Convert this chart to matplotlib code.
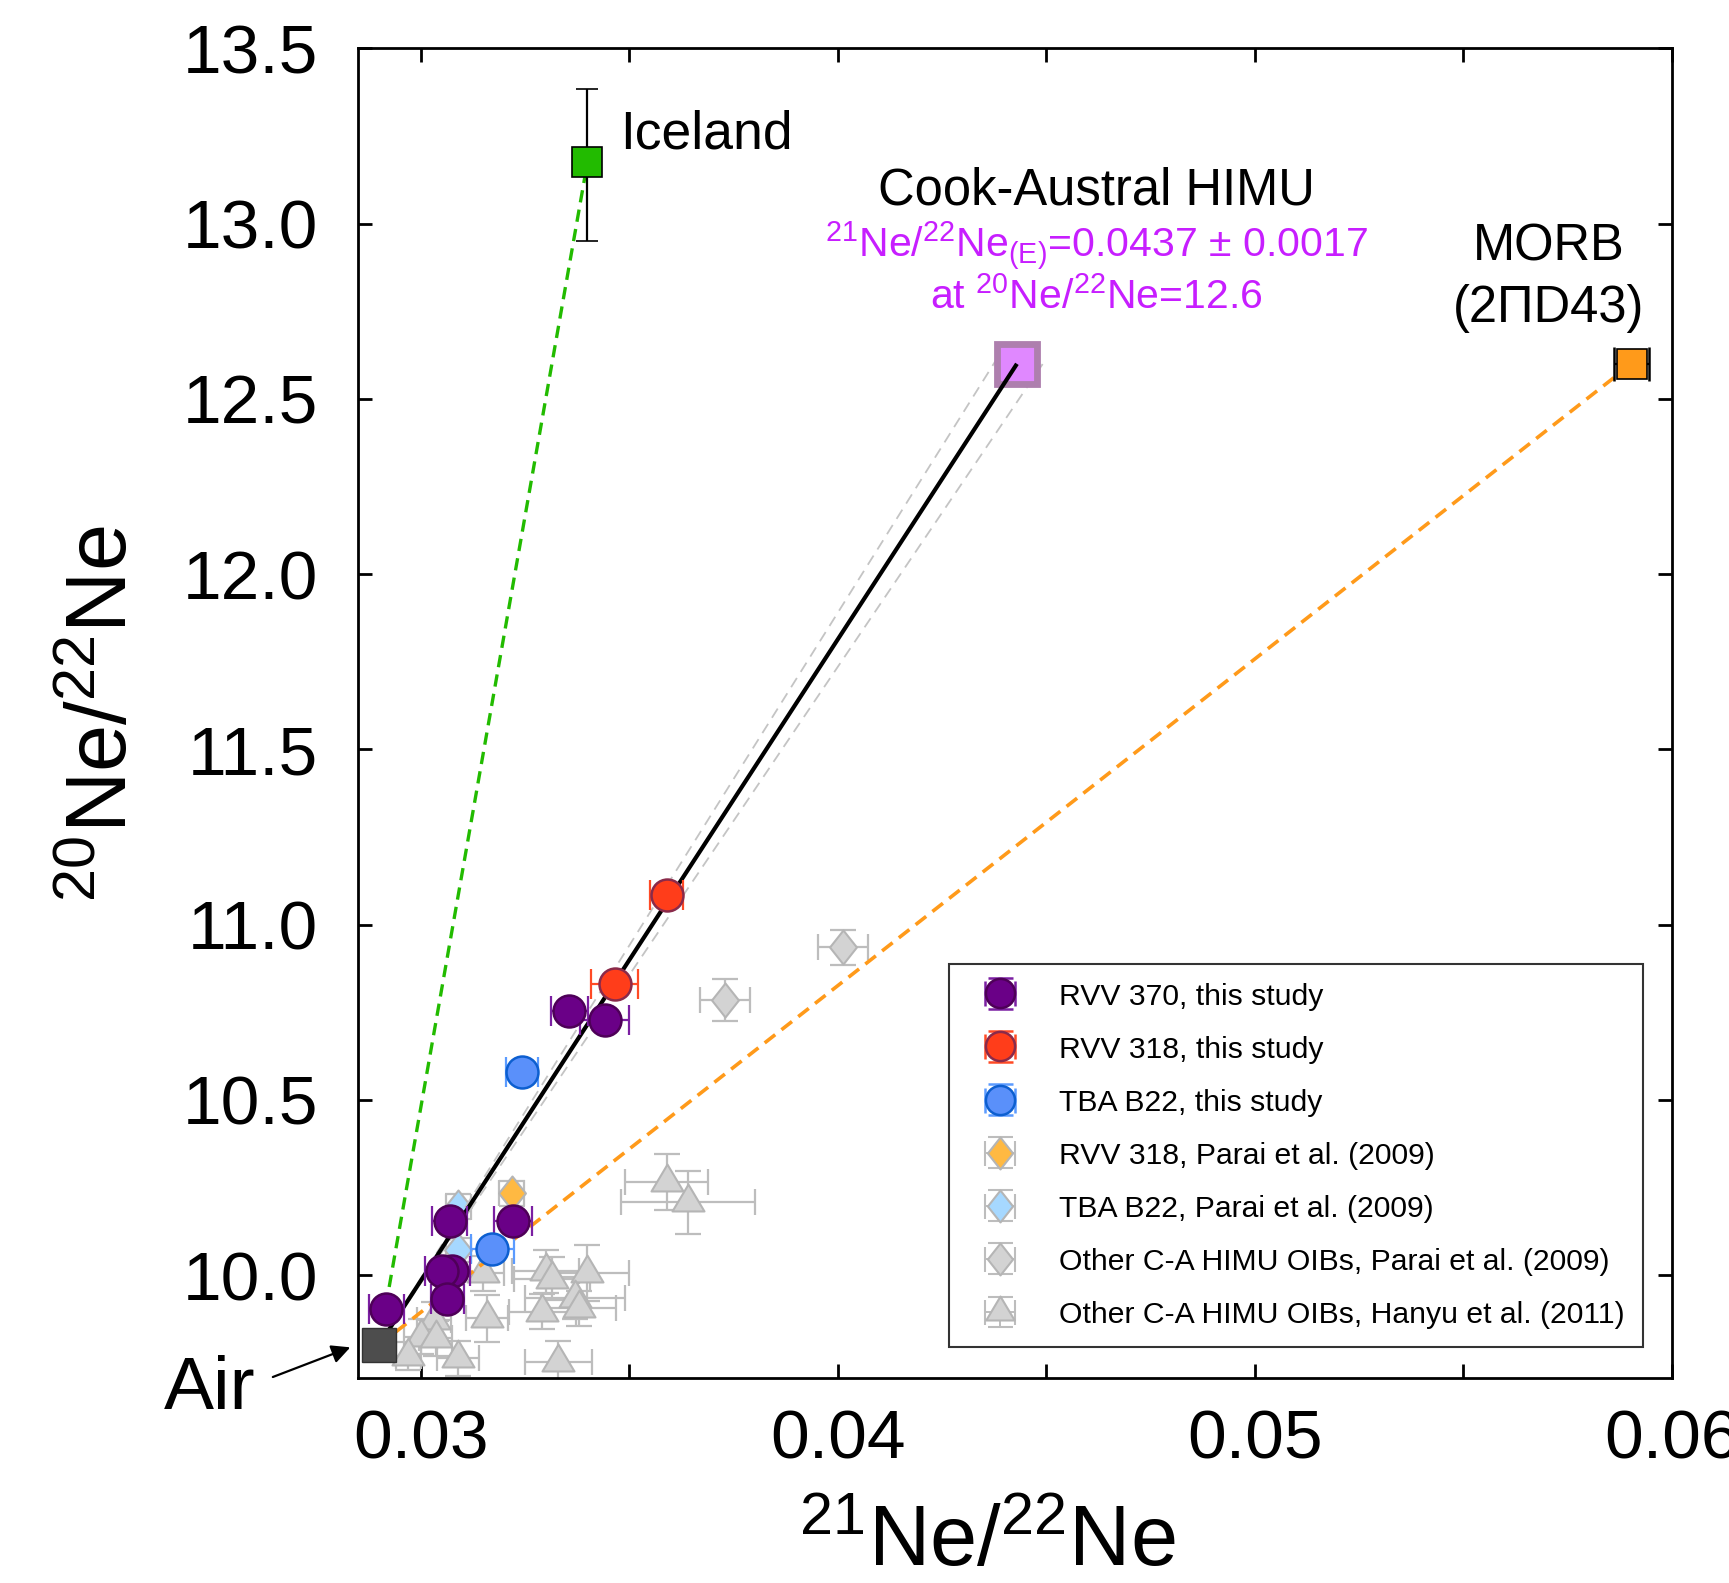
import matplotlib
matplotlib.use("Agg")
import matplotlib.pyplot as plt
from matplotlib import font_manager as fm
from matplotlib.path import Path
import numpy as np

plt.rcParams['font.family'] = ['Liberation Sans', 'DejaVu Sans']
plt.rcParams['mathtext.fontset'] = 'custom'
plt.rcParams['mathtext.rm'] = 'Liberation Sans'
plt.rcParams['mathtext.it'] = 'Liberation Sans:italic'
plt.rcParams['mathtext.bf'] = 'Liberation Sans:bold'

# ---------------- data ----------------
air = (0.0290, 9.80)
iceland = (0.0340, 13.175)
iceland_yerr_lo = 0.225
iceland_yerr_hi = 0.21
morb = (0.05904, 12.60)
morb_xerr = 0.00042
cook = (0.0443, 12.60)
cook_lo = (0.04378, 12.607)
cook_hi = (0.04496, 12.607)

rvv370_x = [0.02917, 0.03070, 0.03222, 0.03076, 0.03051, 0.03064, 0.03357, 0.03441]
rvv370_y = [9.903, 10.155, 10.155, 10.010, 10.010, 9.932, 10.754, 10.729]
rvv370_xerr = [0.00042, 0.00042, 0.00045, 0.00042, 0.00040, 0.00040, 0.00044, 0.00058]
rvv370_yerr = [0.02, 0.02, 0.02, 0.02, 0.02, 0.02, 0.02, 0.02]

rvv318_x = [0.03590, 0.03465]
rvv318_y = [11.084, 10.831]
rvv318_xerr = [0.00040, 0.00057]
rvv318_yerr = [0.02, 0.02]

tba_x = [0.03243, 0.03172]
tba_y = [10.580, 10.074]
tba_xerr = [0.00038, 0.00051]
tba_yerr = [0.02, 0.02]

rvv318p_x = [0.03219]
rvv318p_y = [10.233]
rvv318p_xerr = [0.00030]
rvv318p_yerr = [0.035]

tbap_x = [0.03090, 0.03090]
tbap_y = [10.195, 10.072]
tbap_xerr = [0.00030, 0.00030]
tbap_yerr = [0.035, 0.035]

othp_x = [0.04012, 0.03731]
othp_y = [10.935, 10.786]
othp_xerr = [0.00060, 0.00060]
othp_yerr = [0.049, 0.060]

hanyu_x = [0.03590, 0.03641, 0.03400, 0.03371, 0.03379, 0.03330, 0.03300, 0.03315,
           0.03292, 0.03150, 0.03160, 0.03032, 0.03000, 0.03036, 0.02970, 0.03090]
hanyu_y = [10.265, 10.207, 10.005, 9.935, 9.905, 9.752, 10.010, 9.990,
           9.895, 10.005, 9.876, 9.872, 9.824, 9.819, 9.770, 9.762]
hanyu_xerr = [0.0010, 0.0016, 0.0010, 0.0012, 0.0009, 0.0008, 0.0008, 0.0009,
              0.0008, 0.0005, 0.0005, 0.0004, 0.0004, 0.0004, 0.0003, 0.0005]
hanyu_yerr = [0.08, 0.09, 0.08, 0.06, 0.05, 0.06, 0.06, 0.06,
              0.05, 0.05, 0.066, 0.05, 0.05, 0.05, 0.04, 0.05]

x_major = [0.03, 0.04, 0.05, 0.06]
x_minor = [0.035, 0.045, 0.055]
x_labels = ['0.03', '0.04', '0.05', '0.06']
y_major = [10.0, 10.5, 11.0, 11.5, 12.0, 12.5, 13.0, 13.5]
y_labels = ['10.0', '10.5', '11.0', '11.5', '12.0', '12.5', '13.0', '13.5']

legend_labels = ['RVV 370, this study', 'RVV 318, this study', 'TBA B22, this study',
                 'RVV 318, Parai et al. (2009)', 'TBA B22, Parai et al. (2009)',
                 'Other C-A HIMU OIBs, Parai et al. (2009)',
                 'Other C-A HIMU OIBs, Hanyu et al. (2011)']

# ---------------- figure ----------------
fig = plt.figure(figsize=(17.29, 15.83), dpi=100)
ax = fig.add_axes([0.2071, 0.1297, 0.7597, 0.8397])
ax.set_xlim(0.0285, 0.06)
ax.set_ylim(9.707, 13.5)

# custom markers
tri = Path([(0, 1.12), (-1, -0.56), (1, -0.56), (0, 1.12)],
           [Path.MOVETO, Path.LINETO, Path.LINETO, Path.CLOSEPOLY])
dia = Path([(0, 1), (0.79, 0), (0, -1), (-0.79, 0), (0, 1)],
           [Path.MOVETO, Path.LINETO, Path.LINETO, Path.LINETO, Path.CLOSEPOLY])

grey_e = '#BDBDBD'
cap = 9.4

ax.errorbar(hanyu_x, hanyu_y, xerr=hanyu_xerr, yerr=hanyu_yerr, fmt='none',
            ecolor=grey_e, elinewidth=1.6, capsize=cap, capthick=1.6, zorder=2)
ax.plot(hanyu_x, hanyu_y, linestyle='none', marker=tri, ms=25.8, mfc='#D3D3D3',
        mec='#B5B5B5', mew=1.5, zorder=2.1)

ax.errorbar(othp_x, othp_y, xerr=othp_xerr, yerr=othp_yerr, fmt='none',
            ecolor=grey_e, elinewidth=1.6, capsize=cap, capthick=1.6, zorder=3)
ax.plot(othp_x, othp_y, linestyle='none', marker=dia, ms=24.5, mfc='#D3D3D3',
        mec='#B5B5B5', mew=1.5, zorder=3.1)

ax.errorbar(rvv318p_x, rvv318p_y, xerr=rvv318p_xerr, yerr=rvv318p_yerr, fmt='none',
            ecolor=grey_e, elinewidth=1.6, capsize=cap, capthick=1.6, zorder=3)
ax.plot(rvv318p_x, rvv318p_y, linestyle='none', marker=dia, ms=24.5, mfc='#FFB942',
        mec='#B5B5B5', mew=1.5, zorder=3.1)

ax.errorbar(tbap_x, tbap_y, xerr=tbap_xerr, yerr=tbap_yerr, fmt='none',
            ecolor=grey_e, elinewidth=1.6, capsize=cap, capthick=1.6, zorder=3)
ax.plot(tbap_x, tbap_y, linestyle='none', marker=dia, ms=24.5, mfc='#A6D8FF',
        mec='#B5B5B5', mew=1.5, zorder=3.1)

# mixing lines
ax.plot([air[0], cook_lo[0]], [air[1], cook_lo[1]], color='#C4C4C4', lw=1.3,
        linestyle=(0, (6, 4)), zorder=4)
ax.plot([air[0], cook_hi[0]], [air[1], cook_hi[1]], color='#C4C4C4', lw=1.3,
        linestyle=(0, (6, 4)), zorder=4)
ax.plot([air[0], iceland[0]], [air[1], iceland[1]], color='#22BB00', lw=2.4,
        linestyle=(0, (3.7, 2.2)), zorder=4.5)
ax.plot([air[0], morb[0]], [air[1], morb[1]], color='#FF9A1A', lw=2.6,
        linestyle=(0, (3.7, 2.2)), zorder=4.5)

# Cook-Austral end member
ax.plot([cook[0]], [cook[1]], marker='s', ms=29.4, mfc='#E088FF', mec='#AE7FAE',
        mew=4.9, linestyle='none', zorder=5)
ax.plot([air[0], cook[0]], [air[1], cook[1]], color='black', lw=3.0, zorder=5.5,
        solid_capstyle='butt')


def study(xs, ys, xe, ye, mfc, mec, ecol):
    ax.errorbar(xs, ys, xerr=xe, fmt='none', ecolor=ecol, elinewidth=1.6,
                capsize=10.5, capthick=1.6, zorder=6)
    ax.errorbar(xs, ys, yerr=ye, fmt='none', ecolor=ecol, elinewidth=1.6,
                capsize=3.5, capthick=1.6, zorder=6)
    ax.plot(xs, ys, linestyle='none', marker='o', ms=23, mfc=mfc, mec=mec,
            mew=1.8, zorder=6.1)


study(tba_x, tba_y, tba_xerr, tba_yerr, '#5A90FA', '#0D5FD0', '#5B9BFF')
study(rvv370_x, rvv370_y, rvv370_xerr, rvv370_yerr, '#6A0087', '#4E0058', '#7B1FA2')
study(rvv318_x, rvv318_y, rvv318_xerr, rvv318_yerr, '#FF3D1A', '#8A2A4A', '#FF4A25')

# end members
ax.errorbar([iceland[0]], [iceland[1]], yerr=[[iceland_yerr_lo], [iceland_yerr_hi]],
            fmt='s', ms=22, mfc='#22BB00', mec='black', mew=1.2, ecolor='black',
            elinewidth=1.6, capsize=8, capthick=1.6, zorder=7)
ax.errorbar([morb[0]], [morb[1]], xerr=[morb_xerr], fmt='none', ecolor='black',
            elinewidth=1.6, capsize=12, capthick=1.8, zorder=6.9)
ax.plot([morb[0]], [morb[1]], marker='s', ms=21.5, mfc='#FF9A1A', mec='black',
        mew=1.2, linestyle='none', zorder=7)
ax.plot([air[0]], [air[1]], marker='s', ms=24, mfc='#4D4D4D', mec='#333333',
        mew=1.0, linestyle='none', zorder=7)

# ---------------- axes styling ----------------
for s in ax.spines.values():
    s.set_linewidth(2.0)
ax.set_xticks(x_major)
ax.set_xticklabels(x_labels)
ax.set_xticks(x_minor, minor=True)
ax.set_yticks(y_major)
ax.set_yticklabels(y_labels)
ax.tick_params(which='both', direction='in', top=True, right=True, length=10, width=2)
ax.tick_params(axis='x', which='major', labelsize=50, pad=22)
ax.tick_params(axis='y', which='major', labelsize=50, pad=29)

# ---------------- text ----------------
ax.text(0.03479, 13.255, 'Iceland', fontsize=38.5, ha='left', va='center', zorder=8)
ax.text(0.0462, 13.092, 'Cook-Austral HIMU', fontsize=36.5, ha='center', va='center', zorder=8)
mag = '#C71EFF'
ax.text(0.0462, 12.938,
        r'$^{\mathregular{21}}$Ne/$^{\mathregular{22}}$Ne$_{\mathregular{(E)}}$=0.0437 ± 0.0017',
        fontsize=29.5, color=mag, ha='center', va='center', zorder=8)
ax.text(0.0462, 12.793, r'at $^{\mathregular{20}}$Ne/$^{\mathregular{22}}$Ne=12.6',
        fontsize=29.5, color=mag, ha='center', va='center', zorder=8)
ax.text(0.05705, 12.934, 'MORB', fontsize=36.5, ha='center', va='center', zorder=8)
ax.text(0.05705, 12.758, '(2ΠD43)', fontsize=36.5, ha='center', va='center', zorder=8)

fig.text(0.1212, 0.1225, 'Air', fontsize=54, ha='center', va='center')
ax.annotate('', xy=(0.2041, 0.1495), xycoords='figure fraction',
            xytext=(0.1563, 0.1295), textcoords='figure fraction',
            arrowprops=dict(arrowstyle='-|>', color='black', lw=1.6, mutation_scale=28),
            annotation_clip=False)

fig.text(0.571, 0.0105, r'$^{\mathregular{21}}$Ne/$^{\mathregular{22}}$Ne', fontsize=61,
         ha='center', va='baseline')
fig.text(0.061, 0.549, r'$^{\mathregular{20}}$Ne/$^{\mathregular{22}}$Ne', fontsize=61,
         ha='center', va='center', rotation=90)

# ---------------- legend ----------------
try:
    fm.findfont(fm.FontProperties(family='Liberation Sans Narrow'), fallback_to_default=False)
    leg_family = 'Liberation Sans Narrow'
    leg_size = 25
except Exception:
    leg_family = 'Liberation Sans'
    leg_size = 21.7


def proxy(marker, ms, mfc, mec, mew, ecolor):
    return ax.errorbar([np.nan], [np.nan], xerr=[0.001], yerr=[0.1], fmt='',
                       marker=marker, linestyle='none', ms=ms,
                       mfc=mfc, mec=mec, mew=mew, ecolor=ecolor, elinewidth=1.4,
                       capsize=9, capthick=1.4)


hl = [proxy('o', 21, '#6A0087', '#4E0058', 1.8, '#7B1FA2'),
      proxy('o', 21, '#FF3D1A', '#8A2A4A', 1.8, '#FF4A25'),
      proxy('o', 21, '#5A90FA', '#0D5FD0', 1.8, '#5B9BFF'),
      proxy(dia, 23, '#FFB942', '#B5B5B5', 1.5, grey_e),
      proxy(dia, 23, '#A6D8FF', '#B5B5B5', 1.5, grey_e),
      proxy(dia, 23, '#D3D3D3', '#B5B5B5', 1.5, grey_e),
      proxy(tri, 23, '#D3D3D3', '#B5B5B5', 1.5, grey_e)]

leg = ax.legend(hl, legend_labels, loc='lower right', bbox_to_anchor=(0.978, 0.023),
                borderaxespad=0, frameon=True, fancybox=False, edgecolor='black',
                prop={'family': leg_family, 'size': leg_size}, handlelength=2.2,
                handletextpad=0.85, labelspacing=0.80, borderpad=0.6,
                handleheight=0.9)
leg.get_frame().set_linewidth(1.5)
leg.set_zorder(10)

fig.savefig('out.png', dpi=100)
